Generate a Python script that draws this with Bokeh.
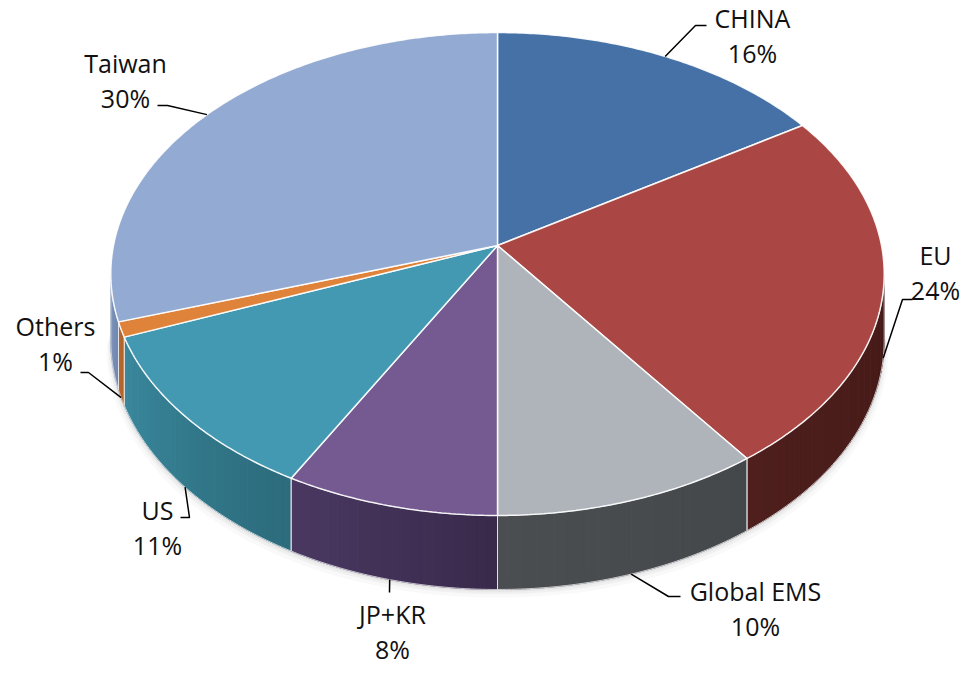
import numpy as np
from bokeh.plotting import figure
from bokeh.models import Range1d
from bokeh.embed import file_html
from bokeh.resources import INLINE
from bokeh.core.properties import value

# ---- data ----
categories = ["CHINA", "EU", "Global EMS", "JP+KR", "US", "Others", "Taiwan"]
shares = [16, 24, 10, 8, 11, 1, 30]

# ---- styles ----
top_colors = ["#4571A6", "#AA4744", "#AFB4BA", "#755A91", "#4299B1", "#E0833A", "#93AAD2"]
side_dark = ["#1F3558", "#451A18", "#45484B", "#392A4B", "#2C6B7B", "#A85F28", "#6F85AE"]
side_light = ["#2A4878", "#4E1F1C", "#4B4E51", "#4A3862", "#3A889D", "#B8692E", "#8398BF"]

# label layout (label centre, elbow, end) in screen pixels
label_pos = [(752, 25), (935, 262), (755, 598), (392, 621), (157, 517), (55, 333), (125, 70)]
leader_elbow = [(695, 33), (902, 307), (668, 604), (389, 600), (189, 525), (88, 380), (167, 113)]
leader_end = [(706, 33), (912, 307), (680, 604), (389, 600), (180, 525), (80, 380), (157, 113)]

# ---- projection of the tilted disc ----
CX, CY = 497.0, 253.0
B, A, K = 384.0, 238.1, 0.118
H = 65.3


def proj(theta, drop=0.0):
    u = np.cos(theta)
    s = np.sin(theta)
    d = 1 + K * u
    return CX + B * s / d, CY - A * u / d + drop / d


W, Hh = 965, 666
DY = 8
p = figure(width=W, height=Hh, output_backend="svg", toolbar_location=None,
           x_range=Range1d(0, W), y_range=Range1d(Hh + DY, DY),
           min_border=0, min_border_left=0, min_border_right=0,
           min_border_top=0, min_border_bottom=0)
p.axis.visible = False
p.grid.visible = False
p.outline_line_color = None
p.background_fill_color = "white"
p.border_fill_color = "white"

total = float(sum(shares))
bounds = np.concatenate([[0], np.cumsum(shares)]) / total * 2 * np.pi
th1 = np.arccos(-K)
th2 = 2 * np.pi - th1

# soft shadow under the front rim
tt = np.linspace(th1, th2, 120)
for grow, alpha in [(7, 0.05), (4, 0.07), (2, 0.09)]:
    bx, by = proj(tt, H + grow)
    tx, ty = proj(tt, H - 10)
    ys = list(by) + list(ty[::-1])
    sx = list(bx + np.sign(bx - CX) * grow * 0.6) + list(tx[::-1])
    p.patch(sx, ys, fill_color="#808080", fill_alpha=alpha, line_color=None)


def lerp_hex(c1, c2, t):
    a = np.array([int(c1[i:i + 2], 16) for i in (1, 3, 5)], float)
    b = np.array([int(c2[i:i + 2], 16) for i in (1, 3, 5)], float)
    c = a + (b - a) * t
    return "#%02x%02x%02x" % tuple(int(round(v)) for v in c)


# side faces (gradient strips)
strip_xs, strip_ys, strip_cols = [], [], []
outline_xs, outline_ys = [], []
for i in range(len(shares)):
    s0 = max(bounds[i], th1)
    s1 = min(bounds[i + 1], th2)
    if s1 <= s0:
        continue
    n = max(2, int((s1 - s0) / np.radians(1.5)) + 1)
    edges = np.linspace(s0, s1, n + 1)
    for j in range(n):
        e = np.linspace(edges[j], edges[j + 1], 4)
        tx, ty = proj(e)
        bx, by = proj(e, H)
        strip_xs.append(list(tx) + list(bx[::-1]))
        strip_ys.append(list(ty) + list(by[::-1]))
        t = (0.5 * (edges[j] + edges[j + 1]) - s0) / (s1 - s0)
        strip_cols.append(lerp_hex(side_dark[i], side_light[i], t))
    e = np.linspace(s0, s1, 60)
    tx, ty = proj(e)
    bx, by = proj(e, H)
    outline_xs.append(list(tx) + list(bx[::-1]))
    outline_ys.append(list(ty) + list(by[::-1]))

p.patches(strip_xs, strip_ys, fill_color=strip_cols, line_color=strip_cols, line_width=1)
p.patches(outline_xs, outline_ys, fill_color=None, line_color="#E8E8EC", line_width=1, line_alpha=0.8)

# top face slices
top_xs, top_ys = [], []
for i in range(len(shares)):
    e = np.linspace(bounds[i], bounds[i + 1], max(3, int(shares[i] * 6)))
    x, y = proj(e)
    top_xs.append([CX] + list(x))
    top_ys.append([CY] + list(y))
p.patches(top_xs, top_ys, fill_color=top_colors, line_color="white", line_width=1.5, line_alpha=0.9)

# leader lines
lx, ly = [], []
for i in range(len(shares)):
    mid = 0.5 * (bounds[i] + bounds[i + 1])
    front = th1 < mid < th2
    ax, ay = proj(mid, H if front else 0.0)
    lx.append([float(ax), leader_elbow[i][0], leader_end[i][0]])
    ly.append([float(ay), leader_elbow[i][1], leader_end[i][1]])
p.multi_line(lx, ly, line_color="black", line_width=1.5)

# labels
names_x = [lp[0] for lp in label_pos]
names_y = [lp[1] for lp in label_pos]
pct_y = [lp[1] + 35 for lp in label_pos]
pct_txt = ["%d%%" % v for v in shares]
p.text(names_x, names_y, text=categories, text_align="center", text_baseline="middle",
       text_font=value("Open Sans"), text_font_size="25px", text_color="#111111")
p.text(names_x, pct_y, text=pct_txt, text_align="center", text_baseline="middle",
       text_font=value("Open Sans"), text_font_size="25px", text_color="#111111")

open("out.html", "w").write(file_html(p, INLINE))
